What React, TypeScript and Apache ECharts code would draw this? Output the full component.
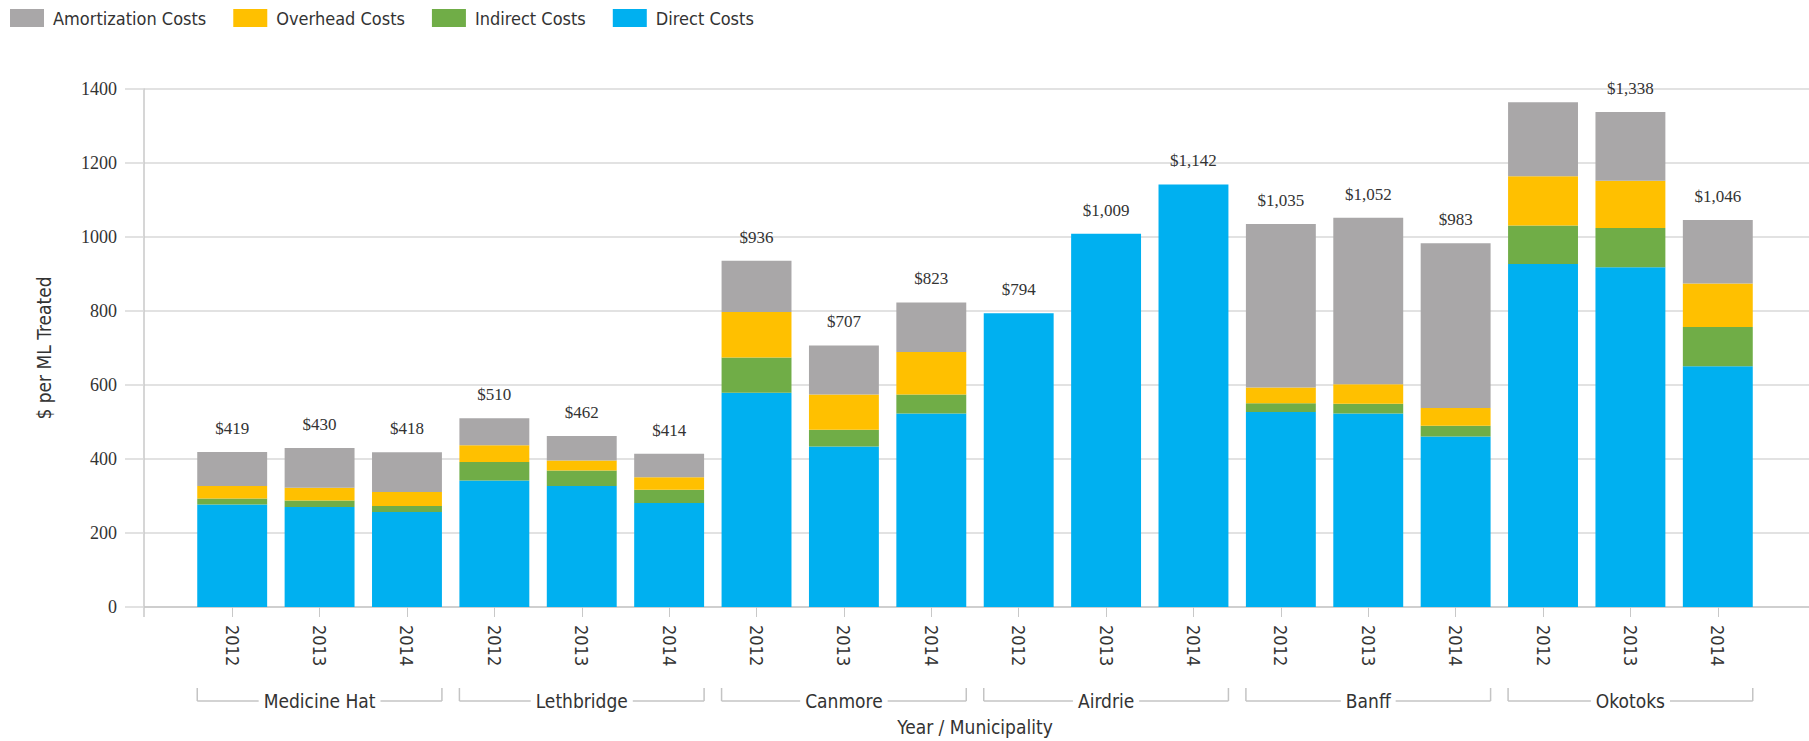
import React, { useEffect, useRef } from "react";
import * as echarts from "echarts";

const municipalities = ["Medicine Hat", "Lethbridge", "Canmore", "Airdrie", "Banff", "Okotoks"];
const yearsPerGroup = ["2012", "2013", "2014"];
const categories = municipalities.flatMap(() => yearsPerGroup);

const directCosts = [277, 270, 257, 342, 327, 281, 579, 434, 523, 794, 1009, 1142, 527, 523, 461, 927, 918, 651];
const indirectCosts = [16, 18, 16, 50, 42, 36, 95, 45, 51, 0, 0, 0, 24, 26, 29, 104, 106, 106];
const overheadCosts = [34, 34, 38, 45, 27, 34, 123, 95, 115, 0, 0, 0, 42, 53, 48, 133, 128, 117];
const amortizationCosts = [92, 108, 107, 73, 66, 63, 139, 133, 134, 0, 0, 0, 442, 450, 445, 200, 186, 172];
const hiddenTotalLabels = [15];

const yTicks = { min: 0, max: 1400, interval: 200 };

const NARROW = "'Liberation Sans Narrow', 'DejaVu Sans Condensed', sans-serif";
const SERIF = "'Liberation Serif', 'DejaVu Serif', serif";

export default function App() {
  const ref = useRef<HTMLDivElement>(null);
  useEffect(() => {
    if (!ref.current) return;
    const chart = echarts.init(ref.current, null, { renderer: "svg" });
    const totals = directCosts.map((d, i) => d + indirectCosts[i] + overheadCosts[i] + amortizationCosts[i]);
    const fmt = (v: number) => "$" + v.toLocaleString("en-US");
    const gridTop = 89;
    const gridBottom = 134;
    const axisX = 144;
    const baseY = 741 - gridBottom;

    const groupData = municipalities.map((m, i) => ({ name: m, value: [i * 3, i * 3 + 2, 0] }));

    chart.setOption({
      animation: false,
      legend: {
        left: 10,
        top: 9,
        padding: 0,
        icon: "rect",
        itemWidth: 34,
        itemHeight: 18,
        itemGap: 27,
        textStyle: { fontFamily: NARROW, fontSize: 18, color: "#333", padding: [0, 0, 0, 4] },
        data: ["Amortization Costs", "Overhead Costs", "Indirect Costs", "Direct Costs"],
      },
      grid: [
        { left: 188.5, right: 47.5, top: gridTop, bottom: gridBottom, outerBoundsMode: "none", containLabel: false },
        { left: axisX, right: 0, top: gridTop, bottom: gridBottom, outerBoundsMode: "none", containLabel: false },
      ],
      xAxis: [
        {
          type: "category",
          gridIndex: 0,
          data: categories,
          axisLine: { show: false },
          axisTick: { show: true, alignWithLabel: true, length: 10, lineStyle: { color: "#c8c8c8" } },
          axisLabel: {
            rotate: -90,
            margin: 18,
            fontFamily: NARROW,
            fontSize: 18,
            color: "#333",
            interval: 0,
          },
          name: "Year / Municipality",
          nameLocation: "middle",
          nameGap: 110,
          nameTextStyle: { fontFamily: NARROW, fontSize: 19, color: "#333" },
        },
        {
          type: "value",
          gridIndex: 1,
          min: 0,
          max: 1,
          axisLine: { show: true, lineStyle: { color: "#c8c8c8", width: 1.5 } },
          axisTick: { show: false },
          axisLabel: { show: false },
          splitLine: { show: false },
        },
      ],
      yAxis: [
        {
          type: "value",
          gridIndex: 0,
          ...yTicks,
          show: false,
        },
        {
          type: "value",
          gridIndex: 1,
          ...yTicks,
          axisLine: { show: true, lineStyle: { color: "#c8c8c8", width: 1.5 } },
          axisTick: { show: true, length: 19, lineStyle: { color: "#d9d9d9", width: 1.5 } },
          splitLine: { show: true, lineStyle: { color: "#d9d9d9", width: 1.5 } },
          axisLabel: { margin: 27, fontFamily: SERIF, fontSize: 18, color: "#333", formatter: (v: number) => String(v) },
          name: "$ per ML Treated",
          nameLocation: "middle",
          nameGap: 91,
          nameTextStyle: { fontFamily: NARROW, fontSize: 19, color: "#333" },
        },
      ],
      graphic: [
        { type: "line", shape: { x1: axisX, y1: baseY, x2: axisX, y2: baseY + 10 }, style: { stroke: "#c8c8c8", lineWidth: 1.5 } },
      ],
      series: [
        {
          name: "Direct Costs",
          type: "bar",
          stack: "cost",
          xAxisIndex: 0,
          yAxisIndex: 0,
          barCategoryGap: "20%",
          itemStyle: { color: "#00B0F0" },
          data: directCosts,
        },
        {
          name: "Indirect Costs",
          type: "bar",
          stack: "cost",
          xAxisIndex: 0,
          yAxisIndex: 0,
          itemStyle: { color: "#70AD47" },
          data: indirectCosts,
        },
        {
          name: "Overhead Costs",
          type: "bar",
          stack: "cost",
          xAxisIndex: 0,
          yAxisIndex: 0,
          itemStyle: { color: "#FFC000" },
          data: overheadCosts,
        },
        {
          name: "Amortization Costs",
          type: "bar",
          stack: "cost",
          xAxisIndex: 0,
          yAxisIndex: 0,
          itemStyle: { color: "#A9A7A8" },
          label: {
            show: true,
            position: "top",
            distance: 15,
            fontFamily: SERIF,
            fontSize: 17,
            color: "#333",
            formatter: (p: any) => (hiddenTotalLabels.includes(p.dataIndex) ? "" : fmt(totals[p.dataIndex])),
          },
          data: amortizationCosts,
        },
        {
          type: "custom",
          xAxisIndex: 0,
          yAxisIndex: 0,
          clip: false,
          silent: true,
          z: 10,
          encode: { x: [0, 1], y: 2 },
          data: groupData,
          renderItem: (params: any, api: any) => {
            const s = api.coord([api.value(0), 0]);
            const e = api.coord([api.value(1), 0]);
            const bw = api.size([1, 0])[0] * 0.8;
            const x0 = s[0] - bw / 2;
            const x1 = e[0] + bw / 2;
            const y = s[1] + 94;
            const stroke = { stroke: "#c4c4c4", lineWidth: 1.5 };
            return {
              type: "group",
              children: [
                { type: "line", shape: { x1: x0, y1: y, x2: x1, y2: y }, style: stroke },
                { type: "line", shape: { x1: x0, y1: y - 13, x2: x0, y2: y }, style: stroke },
                { type: "line", shape: { x1: x1, y1: y - 13, x2: x1, y2: y }, style: stroke },
                {
                  type: "text",
                  style: {
                    text: municipalities[params.dataIndex],
                    x: (x0 + x1) / 2,
                    y,
                    align: "center",
                    verticalAlign: "middle",
                    fill: "#333",
                    fontFamily: NARROW,
                    fontSize: 19,
                    backgroundColor: "#fff",
                    padding: [2, 5],
                  },
                },
              ],
            };
          },
        },
      ],
    });
    return () => chart.dispose();
  }, []);
  return <div ref={ref} style={{ position: "absolute", left: 0, top: 0, width: 1809, height: 741, background: "#fff" }} />;
}
